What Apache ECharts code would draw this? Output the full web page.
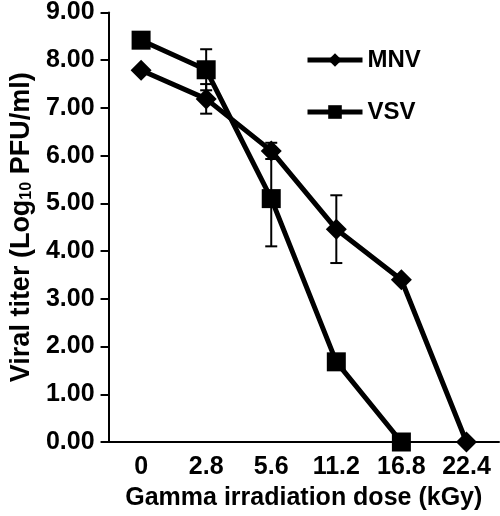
<!DOCTYPE html>
<html>
<head>
<meta charset="utf-8">
<script src="https://cdn.jsdelivr.net/npm/echarts@6/dist/echarts.min.js"></script>
<style>
html,body{margin:0;padding:0;background:#fff;}
#chart{width:500px;height:516px;}
</style>
</head>
<body>
<div id="chart"></div>
<script>
var categories = ['0', '2.8', '5.6', '11.2', '16.8', '22.4'];
var mnvValues = [7.79, 7.19, 6.1, 4.46, 3.4, 0];
var vsvValues = [8.42, 7.8, 5.1, 1.68, 0, null];
var mnvErr = [0, 0.31, 0.17, 0.71, 0, 0];
var vsvErr = [0, 0.43, 1.0, 0, 0, 0];
var yTicks = [0, 1, 2, 3, 4, 5, 6, 7, 8, 9];

function errData(vals, errs) {
  var out = [];
  for (var i = 0; i < vals.length; i++) {
    if (vals[i] != null && errs[i] > 0) out.push([i, vals[i] - errs[i], vals[i] + errs[i]]);
  }
  return out;
}

function renderErr(params, api) {
  var x = api.value(0);
  var lo = api.coord([x, api.value(1)]);
  var hi = api.coord([x, api.value(2)]);
  var hw = 6;
  var st = {stroke: '#000', lineWidth: 2};
  return {
    type: 'group',
    children: [
      {type: 'line', shape: {x1: lo[0], y1: lo[1], x2: hi[0], y2: hi[1]}, style: st},
      {type: 'line', shape: {x1: lo[0] - hw, y1: lo[1], x2: lo[0] + hw, y2: lo[1]}, style: st},
      {type: 'line', shape: {x1: hi[0] - hw, y1: hi[1], x2: hi[0] + hw, y2: hi[1]}, style: st}
    ]
  };
}

var chart = echarts.init(document.getElementById('chart'));
var font = 'Liberation Sans, Arial, sans-serif';
chart.setOption({
  animation: false,
  backgroundColor: '#fff',
  grid: {left: 103, right: 1, top: 10, bottom: 74, containLabel: false},
  legend: {
    orient: 'vertical',
    left: 300,
    top: 43,
    itemWidth: 55,
    itemHeight: 17,
    itemGap: 28,
    lineStyle: {width: 5, color: '#000'},
    textStyle: {fontFamily: font, fontWeight: 'bold', fontSize: 24, color: '#000'},
    data: ['MNV', 'VSV']
  },
  xAxis: {
    type: 'category',
    data: categories,
    boundaryGap: true,
    axisLine: {lineStyle: {color: '#000', width: 2}},
    axisTick: {length: 8, lineStyle: {color: '#000', width: 2}},
    axisLabel: {fontFamily: font, fontWeight: 'bold', fontSize: 25, color: '#000', margin: 13},
    name: 'Gamma irradiation dose (kGy)',
    nameLocation: 'middle',
    nameGap: 44,
    nameTextStyle: {fontFamily: font, fontWeight: 'bold', fontSize: 25, color: '#000'}
  },
  yAxis: {
    type: 'value',
    min: yTicks[0],
    max: yTicks[yTicks.length - 1],
    interval: 1,
    splitLine: {show: false},
    axisLine: {show: true, lineStyle: {color: '#000', width: 2}},
    axisTick: {show: true, length: 8, lineStyle: {color: '#000', width: 2}},
    axisLabel: {fontFamily: font, fontWeight: 'bold', fontSize: 25, color: '#000', margin: 14,
      formatter: function (v) { return v.toFixed(2); }},
    name: '{a|Viral titer (Log}{s|10}{a| PFU/ml)}',
    nameLocation: 'middle',
    nameRotate: 90,
    nameGap: 69,
    nameTextStyle: {
      color: '#000',
      rich: {
        a: {fontFamily: font, fontWeight: 'bold', fontSize: 27, color: '#000'},
        s: {fontFamily: font, fontWeight: 'bold', fontSize: 16, color: '#000', verticalAlign: 'bottom', padding: [8, 0, 0, 0]}
      }
    }
  },
  series: [
    {
      name: 'MNV', type: 'line', data: mnvValues, symbol: 'diamond', symbolSize: 21,
      lineStyle: {color: '#000', width: 5}, itemStyle: {color: '#000'}, z: 3
    },
    {
      name: 'VSV', type: 'line', data: vsvValues, symbol: 'rect', symbolSize: 19,
      lineStyle: {color: '#000', width: 5}, itemStyle: {color: '#000'}, z: 3
    },
    {type: 'custom', renderItem: renderErr, data: errData(mnvValues, mnvErr), z: 1, silent: true},
    {type: 'custom', renderItem: renderErr, data: errData(vsvValues, vsvErr), z: 1, silent: true}
  ]
});
</script>
</body>
</html>
